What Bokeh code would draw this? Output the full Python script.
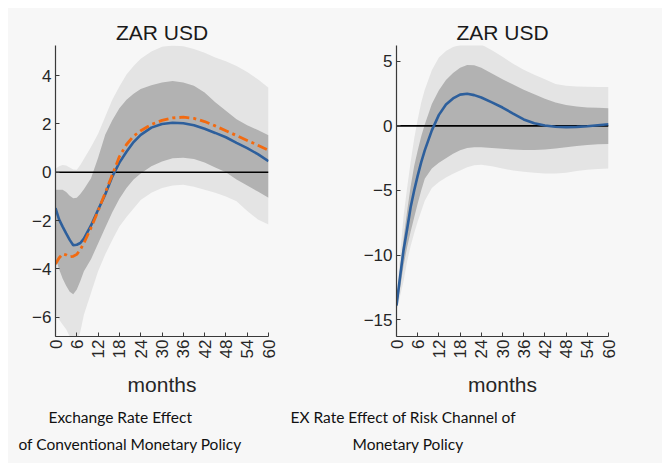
import math
from bokeh.plotting import figure
from bokeh.models import FixedTicker, Range1d, Title
from bokeh.layouts import row
from bokeh.embed import file_html
from bokeh.resources import INLINE

# ---------------- data ----------------
months = [0, 1, 2, 3, 4, 5, 6, 7, 8, 10, 12, 14, 16, 18, 20, 22, 24, 27, 30, 33, 36, 39, 42, 45, 48, 51, 54, 57, 60]
x_ticks = [0, 6, 12, 18, 24, 30, 36, 42, 48, 54, 60]

# Left panel: Exchange Rate Effect of Conventional Monetary Policy
left_yticks = [-6, -4, -2, 0, 2, 4]
left_light_hi = [0.15, 0.25, 0.3, 0.28, 0.2, 0.12, 0.1, 0.3, 0.55, 1.05, 1.6, 2.3, 3.0, 3.55, 4.05, 4.4, 4.7, 5.0, 5.2, 5.25, 5.22, 5.1, 4.95, 4.75, 4.6, 4.4, 4.15, 3.85, 3.5]
left_light_lo = [-5.9, -6.1, -6.3, -6.5, -6.8, -7.0, -7.0, -6.6, -5.9, -5.0, -4.1, -3.4, -2.8, -2.25, -1.85, -1.5, -1.15, -0.85, -0.65, -0.55, -0.52, -0.6, -0.72, -0.85, -1.0, -1.2, -1.6, -1.95, -2.16]
left_dark_hi = [-0.72, -0.72, -0.72, -0.82, -0.97, -1.08, -1.05, -0.9, -0.7, -0.25, 0.6, 1.55, 2.15, 2.65, 3.0, 3.25, 3.45, 3.6, 3.72, 3.78, 3.72, 3.58, 3.3, 2.9, 2.55, 2.2, 1.95, 1.75, 1.53]
left_dark_lo = [-3.55, -4.0, -4.4, -4.7, -4.95, -5.05, -4.85, -4.5, -4.1, -3.6, -2.95, -2.3, -1.65, -1.1, -0.65, -0.3, -0.05, 0.25, 0.45, 0.58, 0.6, 0.55, 0.4, 0.2, 0.0, -0.3, -0.55, -0.8, -1.05]
left_median = [-1.48, -1.95, -2.25, -2.53, -2.8, -3.02, -3.0, -2.93, -2.75, -2.2, -1.55, -0.92, -0.18, 0.4, 0.85, 1.25, 1.55, 1.85, 2.0, 2.05, 2.03, 1.95, 1.8, 1.63, 1.45, 1.22, 1.0, 0.75, 0.46]
left_alt = [-3.8, -3.55, -3.38, -3.42, -3.5, -3.48, -3.4, -3.2, -2.93, -2.3, -1.6, -0.85, -0.1, 0.65, 1.15, 1.5, 1.72, 1.98, 2.15, 2.25, 2.28, 2.23, 2.1, 1.92, 1.72, 1.52, 1.32, 1.12, 0.91]

# Right panel: EX Rate Effect of Risk Channel of Monetary Policy
right_yticks = [-15, -10, -5, 0, 5]
right_light_hi = [-13.4, -10.0, -7.0, -4.8, -2.8, -1.0, 0.5, 1.8, 2.8, 4.3, 5.3, 5.8, 6.1, 6.25, 6.35, 6.38, 6.3, 5.85, 5.35, 4.8, 4.35, 3.95, 3.6, 3.25, 3.1, 3.05, 3.02, 3.0, 3.0]
right_light_lo = [-14.3, -13.2, -12.0, -10.5, -9.3, -8.3, -7.4, -6.6, -5.8, -4.8, -4.35, -4.0, -3.7, -3.45, -3.2, -3.05, -3.0, -3.12, -3.3, -3.45, -3.55, -3.62, -3.68, -3.68, -3.62, -3.5, -3.4, -3.33, -3.29]
right_dark_hi = [-13.6, -11.0, -8.7, -6.6, -4.7, -3.1, -1.9, -0.8, 0.1, 1.7, 2.75, 3.55, 4.1, 4.5, 4.72, 4.7, 4.5, 4.05, 3.6, 3.2, 2.8, 2.45, 2.1, 1.8, 1.62, 1.5, 1.43, 1.4, 1.37]
right_dark_lo = [-14.1, -12.6, -10.8, -9.4, -8.2, -7.1, -6.0, -5.0, -4.1, -3.3, -2.85, -2.5, -2.15, -1.88, -1.72, -1.66, -1.66, -1.72, -1.78, -1.83, -1.86, -1.86, -1.83, -1.76, -1.65, -1.55, -1.48, -1.43, -1.4]
right_median = [-13.9, -11.7, -9.6, -8.0, -6.3, -5.0, -3.85, -2.8, -1.9, -0.35, 0.85, 1.65, 2.12, 2.42, 2.48, 2.38, 2.2, 1.82, 1.42, 0.95, 0.5, 0.2, 0.03, -0.07, -0.1, -0.08, -0.03, 0.05, 0.13]

titles = ["ZAR USD", "ZAR USD"]
captions_left = ["Exchange Rate Effect", "of Conventional Monetary Policy"]
captions_right = ["EX Rate Effect of Risk Channel of", "Monetary Policy"]

# ---------------- style ----------------
BG = "#f7f7f7"
LIGHT = "#e4e4e4"
DARK = "#b2b2b2"
BLUE = "#2d5f9c"
ORANGE = "#f26a10"
AXIS = "#3a3a3a"
FONT = "Liberation Sans"
CAP_FONT = "Lato"


def make_panel(width, height, left, right, top, bottom, ylim, yticks,
               light_hi, light_lo, dark_hi, dark_lo, median, alt,
               title, captions, cap_offsets):
    p = figure(width=width, height=height, output_backend="svg", toolbar_location=None,
               x_range=Range1d(0, 60), y_range=Range1d(*ylim),
               min_border_left=left, min_border_right=right,
               min_border_top=top, min_border_bottom=bottom)
    p.background_fill_color = BG
    p.border_fill_color = BG
    p.outline_line_color = None
    p.grid.visible = False

    p.varea(x=months, y1=light_lo, y2=light_hi, fill_color=LIGHT)
    p.varea(x=months, y1=dark_lo, y2=dark_hi, fill_color=DARK)
    p.line(x=[0, 60], y=[0, 0], line_color="black", line_width=1.6)
    p.line(x=months, y=median, line_color=BLUE, line_width=2.6)
    if alt is not None:
        p.line(x=months, y=alt, line_color=ORANGE, line_width=2.8, line_dash="10 4 3 4")

    # axes
    p.xaxis.ticker = FixedTicker(ticks=x_ticks)
    p.yaxis.ticker = FixedTicker(ticks=yticks)
    for ax in (p.xaxis[0], p.yaxis[0]):
        ax.axis_line_color = AXIS
        ax.axis_line_width = 1.2
        ax.major_tick_line_color = AXIS
        ax.major_tick_in = 4
        ax.major_tick_out = 0
        ax.minor_tick_line_color = None
        ax.major_label_text_font = FONT
        ax.major_label_text_font_size = "17px"
        ax.major_label_text_color = "#262626"
    p.xaxis.major_label_orientation = math.pi / 2
    p.xaxis.major_label_standoff = 3
    p.yaxis.major_label_standoff = 4
    p.xaxis.axis_label = "months"
    p.xaxis.axis_label_text_font = FONT
    p.xaxis.axis_label_text_font_size = "21px"
    p.xaxis.axis_label_text_font_style = "normal"
    p.xaxis.axis_label_text_color = "#262626"
    p.xaxis.axis_label_standoff = 12

    p.title.text = title
    p.title.align = "center"
    p.title.text_font = FONT
    p.title.text_font_size = "21px"
    p.title.text_font_style = "normal"
    p.title.text_color = "#1a1a1a"
    p.title.standoff = 3

    for line, off, so in zip(captions, cap_offsets, (12, 3)):
        p.add_layout(Title(text=line, align="left", offset=off, text_font=CAP_FONT,
                           text_font_size="15.5px", text_font_style="normal",
                           text_color="#111111", standoff=so), "below")
    return p


H = 455
p1 = make_panel(273, H, 47, 13, 37, 123, (-6.8, 5.25), left_yticks,
                left_light_hi, left_light_lo, left_dark_hi, left_dark_lo,
                left_median, left_alt, titles[0], captions_left, [-7, -37])
p2 = make_panel(381, H, 115, 54, 34, 127, (-16.3, 6.22), right_yticks,
                right_light_hi, right_light_lo, right_dark_hi, right_dark_lo,
                right_median, None, titles[1], captions_right, [-106, -44])

layout = row(p1, p2, margin=(8, 0, 0, 8), styles={"background-color": BG})
open("out.html", "w").write(file_html(layout, INLINE))
